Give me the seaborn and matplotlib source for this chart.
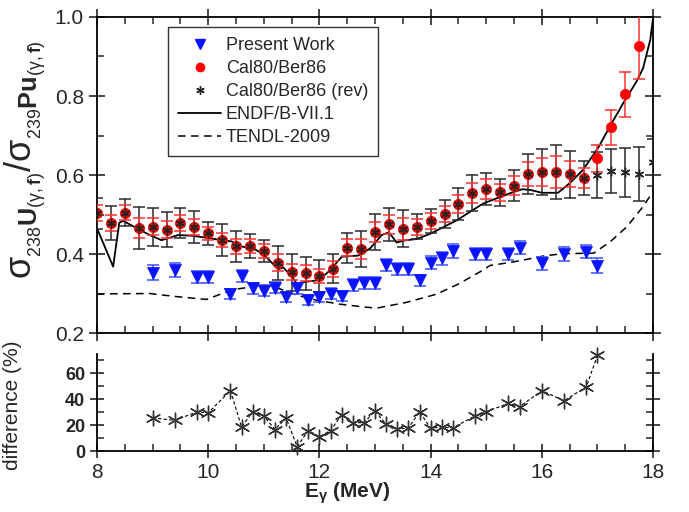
import matplotlib
matplotlib.use('Agg')
import matplotlib.pyplot as plt
import numpy as np
import pandas as pd
import seaborn as sns
from matplotlib.lines import Line2D
from matplotlib.ticker import MultipleLocator

# Present Work (blue triangles), same energies are used for the difference panel
pw_e = [9.0, 9.4, 9.8, 10.0, 10.4, 10.6, 10.8, 11.0, 11.2, 11.4, 11.6, 11.8, 12.0,
        12.2, 12.4, 12.6, 12.8, 13.0, 13.2, 13.4, 13.6, 13.8, 14.0, 14.2, 14.4,
        14.8, 15.0, 15.4, 15.6, 16.0, 16.4, 16.8, 17.0]
pw_ratio = [0.352, 0.360, 0.341, 0.341, 0.299, 0.345, 0.313, 0.307, 0.315, 0.292,
            0.313, 0.284, 0.292, 0.300, 0.294, 0.322, 0.327, 0.327, 0.372, 0.362,
            0.362, 0.334, 0.378, 0.389, 0.408, 0.400, 0.400, 0.400, 0.416, 0.376,
            0.400, 0.406, 0.370]
pw_err = [0.019, 0.018, 0.015, 0.015, 0.013, 0.015, 0.014, 0.014, 0.014, 0.013,
          0.014, 0.013, 0.013, 0.014, 0.013, 0.015, 0.015, 0.015, 0.015, 0.015,
          0.015, 0.014, 0.016, 0.016, 0.017, 0.016, 0.016, 0.016, 0.017, 0.016,
          0.017, 0.017, 0.019]
diff_pct = [25.6, 23.7, 30.3, 29.5, 46.7, 18.5, 30.3, 27.2, 16.6, 25.6, 3.4, 15.8,
            11.1, 15.8, 28.2, 21.9, 21.9, 30.9, 20.6, 17.2, 17.7, 30.3, 17.7, 18.5,
            17.9, 27.2, 30.3, 36.9, 34.3, 46.7, 38.8, 49.6, 73.9]

# Cal80/Ber86 (red circles)
cal_e = [8.0, 8.25, 8.5, 8.75, 9.0, 9.25, 9.5, 9.75, 10.0, 10.25, 10.5, 10.75,
         11.0, 11.25, 11.5, 11.75, 12.0, 12.25, 12.5, 12.75, 13.0, 13.25, 13.5,
         13.75, 14.0, 14.25, 14.5, 14.75, 15.0, 15.25, 15.5, 15.75, 16.0, 16.25,
         16.5, 16.75, 17.0, 17.25, 17.5, 17.75]
cal_ratio = [0.503, 0.478, 0.505, 0.465, 0.469, 0.462, 0.478, 0.469, 0.452, 0.435,
             0.419, 0.420, 0.408, 0.378, 0.354, 0.351, 0.344, 0.363, 0.416, 0.413,
             0.455, 0.475, 0.464, 0.469, 0.484, 0.501, 0.527, 0.555, 0.564, 0.556,
             0.573, 0.602, 0.608, 0.608, 0.602, 0.593, 0.642, 0.721, 0.804, 0.927]
cal_err = [0.020, 0.020, 0.019, 0.025, 0.021, 0.022, 0.020, 0.020, 0.017, 0.018,
           0.020, 0.018, 0.017, 0.022, 0.020, 0.020, 0.018, 0.020, 0.022, 0.025,
           0.025, 0.025, 0.028, 0.020, 0.020, 0.020, 0.022, 0.025, 0.025, 0.022,
           0.024, 0.030, 0.036, 0.040, 0.033, 0.025, 0.034, 0.044, 0.058, 0.083]

# Cal80/Ber86 (rev) (black asterisks)
rev_e = cal_e + [18.0]
rev_ratio = cal_ratio[:36] + [0.600, 0.610, 0.607, 0.602, 0.632]
rev_err = [0.040, 0.043, 0.034, 0.053, 0.048, 0.045, 0.038, 0.041, 0.028, 0.040,
           0.040, 0.031, 0.028, 0.043, 0.047, 0.042, 0.040, 0.036, 0.038, 0.045,
           0.046, 0.042, 0.047, 0.032, 0.030, 0.036, 0.040, 0.046, 0.041, 0.035,
           0.039, 0.050, 0.059, 0.068, 0.060, 0.043, 0.058, 0.056, 0.062, 0.068,
           0.060]

# ENDF/B-VII.1
endf_e = [8.0, 8.29, 8.4, 8.47, 8.77, 8.95, 9.16, 9.28, 9.46, 9.73, 9.97, 10.24,
          10.42, 10.6, 10.81, 10.99, 11.26, 11.35, 11.5, 11.59, 11.77, 12.0, 12.19,
          12.4, 12.7, 12.91, 13.12, 13.25, 13.39, 13.51, 13.75, 13.99, 14.23, 14.48,
          14.71, 14.95, 15.19, 15.43, 15.65, 15.8, 16.0, 16.29, 16.5, 16.74, 17.01,
          17.22, 17.46, 17.7, 17.82, 17.95, 18.0]
endf_ratio = [0.465, 0.368, 0.479, 0.484, 0.461, 0.448, 0.435, 0.440, 0.448, 0.446,
              0.441, 0.435, 0.432, 0.419, 0.414, 0.400, 0.361, 0.366, 0.343, 0.326,
              0.330, 0.334, 0.359, 0.393, 0.396, 0.414, 0.448, 0.455, 0.429, 0.434,
              0.438, 0.451, 0.468, 0.486, 0.507, 0.528, 0.541, 0.554, 0.564, 0.562,
              0.555, 0.555, 0.579, 0.613, 0.668, 0.722, 0.781, 0.836, 0.870, 0.942,
              0.997]

# TENDL-2009
tendl_e = [8.0, 8.95, 9.37, 9.97, 10.27, 10.5, 10.99, 11.17, 11.59, 11.95, 12.37,
           12.79, 13.03, 13.55, 14.1, 14.5, 14.89, 15.07, 15.31, 15.61, 16.03, 16.39,
           16.93, 17.23, 17.53, 17.82, 18.0]
tendl_ratio = [0.299, 0.300, 0.293, 0.285, 0.301, 0.311, 0.321, 0.318, 0.296, 0.283,
               0.273, 0.266, 0.263, 0.277, 0.298, 0.324, 0.355, 0.371, 0.376, 0.383,
               0.395, 0.401, 0.402, 0.431, 0.469, 0.520, 0.558]

sns.set_theme(style='ticks')
plt.rcParams['font.family'] = ['Liberation Sans', 'DejaVu Sans']
plt.rcParams['mathtext.fontset'] = 'custom'
plt.rcParams['mathtext.rm'] = 'Liberation Sans'
plt.rcParams['mathtext.it'] = 'Liberation Sans:italic'
plt.rcParams['mathtext.bf'] = 'Liberation Sans:bold'
plt.rcParams['mathtext.default'] = 'regular'

fig = plt.figure(figsize=(6.89, 5.12), dpi=100)
ax = fig.add_axes([0.1408, 0.3496, 0.807, 0.6172])
ax2 = fig.add_axes([0.1408, 0.1191, 0.807, 0.1895])

star = (6, 2, 0)

# upper panel
sns.lineplot(x=tendl_e, y=tendl_ratio, ax=ax, color='black', lw=1.1, sort=False,
             estimator=None, linestyle=(0, (5, 3.5)))
sns.lineplot(x=endf_e, y=endf_ratio, ax=ax, color='black', lw=1.3, sort=False,
             estimator=None)

ax.errorbar(pw_e, pw_ratio, yerr=pw_err, fmt='none', ecolor='#4a5cff',
            elinewidth=1.2, capsize=4.5, capthick=1.2, zorder=3)
sns.scatterplot(x=pw_e, y=pw_ratio, ax=ax, marker='v', s=75, color='#0a14ff',
                edgecolor='#0a14ff', linewidth=0.5, zorder=4)

ax.errorbar(rev_e, rev_ratio, yerr=rev_err, fmt='none', ecolor='#2a2a2a',
            elinewidth=1.1, capsize=4, capthick=1.1, zorder=3)
ax.errorbar(cal_e, cal_ratio, yerr=cal_err, fmt='none', ecolor='#ff3030',
            elinewidth=1.1, capsize=4, capthick=1.1, zorder=4)
sns.scatterplot(x=cal_e, y=cal_ratio, ax=ax, marker='o', s=55, color='#ff0000',
                edgecolor='#ff0000', linewidth=0.5, zorder=5)
sns.scatterplot(x=rev_e, y=rev_ratio, ax=ax, marker=star, s=40, color='#222222',
                edgecolor='#222222', linewidth=1.0, zorder=6)

ax.set_xlim(8, 18)
ax.set_ylim(0.2, 1.0)
ax.xaxis.set_major_locator(MultipleLocator(2))
ax.xaxis.set_minor_locator(MultipleLocator(0.5))
ax.yaxis.set_major_locator(MultipleLocator(0.2))
ax.yaxis.set_minor_locator(MultipleLocator(0.1))
ax.set_yticks([0.2, 0.4, 0.6, 0.8, 1.0])
ax.set_yticklabels(['0.2', '0.4', '0.6', '0.8', '1.0'])
ax.tick_params(which='major', direction='inout', length=12, width=1.2,
               top=True, right=True, labelbottom=False, labelsize=15)
ax.tick_params(which='minor', direction='in', length=5, width=1.1,
               top=True, right=True)
for s in ax.spines.values():
    s.set_linewidth(1.3)
    s.set_color('black')
ax.set_xlabel('')
ax.set_ylabel(r'$\sigma_{{}_{238}\mathbf{U}_{(\gamma,\mathbf{f})}}/\sigma_{{}_{239}\mathbf{Pu}_{(\gamma,\mathbf{f})}}$',
              fontsize=26)
ax.yaxis.set_label_coords(-0.088, 0.55)

handles = [
    Line2D([], [], marker='v', color='#0a14ff', linestyle='none', markersize=7),
    Line2D([], [], marker='o', color='#ff0000', linestyle='none', markersize=6),
    Line2D([], [], marker=star, color='#222222', linestyle='none', markersize=6,
           markeredgewidth=1.0),
    Line2D([], [], color='black', lw=1.3),
    Line2D([], [], color='black', lw=1.1, linestyle=(0, (5, 3.5))),
]
labels = ['Present Work', 'Cal80/Ber86', 'Cal80/Ber86 (rev)', 'ENDF/B-VII.1',
          'TENDL-2009']
leg = ax.legend(handles, labels, loc='upper left', bbox_to_anchor=(0.128, 0.968),
                fontsize=13, frameon=True, fancybox=False, handlelength=2.4,
                handletextpad=0.25, borderpad=0.55, labelspacing=0.33,
                borderaxespad=0)
leg.get_frame().set_edgecolor('black')
leg.get_frame().set_linewidth(1.0)

# lower panel: difference (%)
sns.lineplot(x=pw_e, y=diff_pct, ax=ax2, color='black', lw=0.8, sort=False,
             estimator=None, linestyle=(0, (3, 2)))
sns.scatterplot(x=pw_e, y=diff_pct, ax=ax2, marker=star, s=110, color='#333333',
                edgecolor='#333333', linewidth=1.0, zorder=4, clip_on=False)

ax2.set_xlim(8, 18)
ax2.set_ylim(0, 75)
ax2.xaxis.set_major_locator(MultipleLocator(2))
ax2.xaxis.set_minor_locator(MultipleLocator(0.5))
ax2.yaxis.set_major_locator(MultipleLocator(20))
ax2.yaxis.set_minor_locator(MultipleLocator(10))
ax2.spines['top'].set_visible(False)
for s in ['left', 'right', 'bottom']:
    ax2.spines[s].set_linewidth(1.3)
    ax2.spines[s].set_color('black')
ax2.tick_params(which='major', direction='inout', length=10, width=1.2,
                right=True, top=False, labelsize=15)
ax2.tick_params(which='minor', direction='in', length=5, width=1.1,
                right=True, top=False)
for lab in ax2.get_yticklabels():
    lab.set_fontweight('bold')
    lab.set_fontsize(13)
ax2.set_ylabel('difference (%)', fontsize=15)
ax2.yaxis.set_label_coords(-0.135, 0.47)
ax2.set_xlabel(r'$\mathbf{E_{\gamma}}$ (MeV)', fontsize=15, fontweight='bold')
ax2.xaxis.set_label_coords(0.45, -0.30)

fig.savefig('out.png', dpi=100)
